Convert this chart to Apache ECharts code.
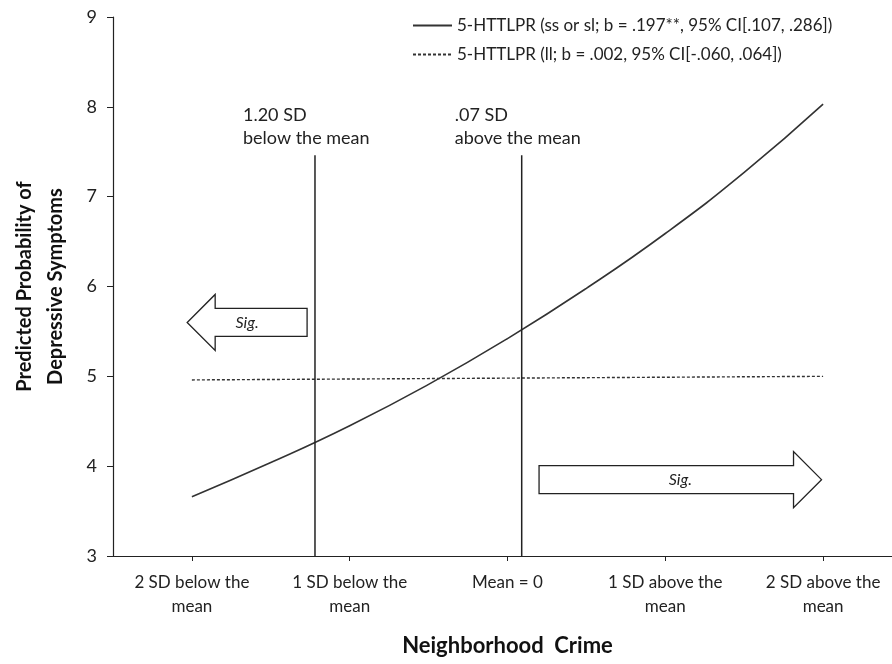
<!DOCTYPE html>
<html>
<head>
<meta charset="utf-8">
<script src="https://cdn.jsdelivr.net/npm/echarts@6/dist/echarts.min.js"></script>
<style>
  html, body { margin: 0; padding: 0; background: #fff; }
  #chart { width: 892px; height: 664px; }
</style>
</head>
<body>
<div id="chart"></div>
<script>
// neighborhood crime (SD units) and predicted depressive symptoms
var crimeLevels = [-2, -1.5, -1, -0.5, 0, 0.5, 1, 1.5, 2];
var shortAllele = [3.66, 4.04, 4.45, 4.91, 5.42, 5.98, 6.59, 7.27, 8.03];
var longLevels = [-2, 2];
var longAllele = [4.96, 5.00];

var tickValues = [-2, -1, 0, 1, 2];
var tickLabels = ['2 SD below the\nmean', '1 SD below the\nmean', 'Mean = 0', '1 SD above the\nmean', '2 SD above the\nmean'];

// regions of significance
var cutoffs = [-1.22, 0.09];
var cutoffLabels = ['1.20 SD\nbelow the mean', '.07 SD\nabove the mean'];
var cutoffLabelShift = [-72, -67];
var cutoffTop = 7.46;
var arrowFrom = [-1.27, 0.20];
var arrowTo = [-2.03, 1.99];
var arrowY = [5.60, 3.85];

var seriesNames = ['5-HTTLPR (ss or sl; b = .197**, 95% CI[.107, .286])',
                   '5-HTTLPR (ll; b = .002, 95% CI[-.060, .064])'];

var ink = '#222';
var font = 'Lato, "Open Sans", sans-serif';

var chart = echarts.init(document.getElementById('chart'));

function zip(xs, ys) { return xs.map(function (x, i) { return [x, ys[i]]; }); }

var series = [
  {
    name: seriesNames[0], type: 'line', smooth: true, symbol: 'none',
    data: zip(crimeLevels, shortAllele),
    lineStyle: { color: '#333', width: 1.6 }, itemStyle: { color: '#333' }
  },
  {
    name: seriesNames[1], type: 'line', symbol: 'none',
    data: zip(longLevels, longAllele),
    lineStyle: { color: '#333', width: 1.4, type: [3, 2] }, itemStyle: { color: '#333' }
  }
];
cutoffs.forEach(function (c) {
  series.push({
    type: 'line', symbol: 'none', silent: true,
    data: [[c, 3], [c, cutoffTop]],
    lineStyle: { color: ink, width: 1.5 }
  });
});

chart.setOption({
  animation: false,
  textStyle: { fontFamily: font },
  grid: { left: 113, right: -10, top: 17, bottom: 108, outerBoundsMode: 'none' },
  legend: {
    data: seriesNames,
    orient: 'vertical', left: 407, top: 12,
    itemWidth: 39, itemHeight: 14, itemGap: 12,
    itemStyle: { opacity: 0 },
    textStyle: { fontFamily: font, fontSize: 17, color: ink }
  },
  xAxis: {
    type: 'value', min: -2.5, max: 2.5,
    splitLine: { show: false },
    axisLine: { onZero: false, lineStyle: { color: ink, width: 1.2 } },
    axisTick: { customValues: tickValues, length: 5, lineStyle: { color: ink } },
    axisLabel: {
      customValues: tickValues,
      formatter: function (v) { return tickLabels[tickValues.indexOf(v)]; },
      fontFamily: font, fontSize: 17, lineHeight: 24, color: ink, margin: 15
    },
    name: 'Neighborhood  Crime', nameLocation: 'middle', nameGap: 79,
    nameTextStyle: { fontFamily: font, fontSize: 22, fontWeight: 'bold', color: '#111' }
  },
  yAxis: {
    type: 'value', min: 3, max: 9, interval: 1,
    splitLine: { show: false },
    axisLine: { show: true, onZero: false, lineStyle: { color: ink, width: 1.2 } },
    axisTick: { show: true, length: 6, lineStyle: { color: ink } },
    axisLabel: { fontFamily: font, fontSize: 18, color: ink, margin: 16 },
    name: 'Predicted Probability of\nDepressive Symptoms', nameLocation: 'middle', nameGap: 42,
    nameTextStyle: { fontFamily: font, fontSize: 20, fontWeight: 'bold', color: '#111', lineHeight: 31 }
  },
  series: series
});

// annotations placed through the chart's own scales
var graphics = [];
cutoffs.forEach(function (c, i) {
  var p = chart.convertToPixel({ gridIndex: 0 }, [c, cutoffTop]);
  graphics.push({
    type: 'text', x: p[0] + cutoffLabelShift[i], y: p[1] - 6,
    style: { text: cutoffLabels[i], font: '18px ' + font, fill: ink, lineHeight: 23,
             textAlign: 'left', textVerticalAlign: 'bottom' }
  });
});
arrowFrom.forEach(function (f, i) {
  var a = chart.convertToPixel({ gridIndex: 0 }, [f, arrowY[i]]);
  var b = chart.convertToPixel({ gridIndex: 0 }, [arrowTo[i], arrowY[i]]);
  var d = b[0] > a[0] ? 1 : -1, y = a[1], h = 14, H = 28, L = 28;
  var hb = b[0] - d * L;
  graphics.push({
    type: 'polygon',
    shape: { points: [[a[0], y - h], [hb, y - h], [hb, y - H], [b[0], y], [hb, y + H], [hb, y + h], [a[0], y + h]] },
    style: { fill: '#fff', stroke: ink, lineWidth: 1.3 }
  });
  graphics.push({
    type: 'text', x: (a[0] + b[0]) / 2, y: y,
    style: { text: 'Sig.', font: 'italic 16px ' + font, fill: ink, textAlign: 'center', textVerticalAlign: 'middle' }
  });
});
chart.setOption({ graphic: graphics });
</script>
</body>
</html>
